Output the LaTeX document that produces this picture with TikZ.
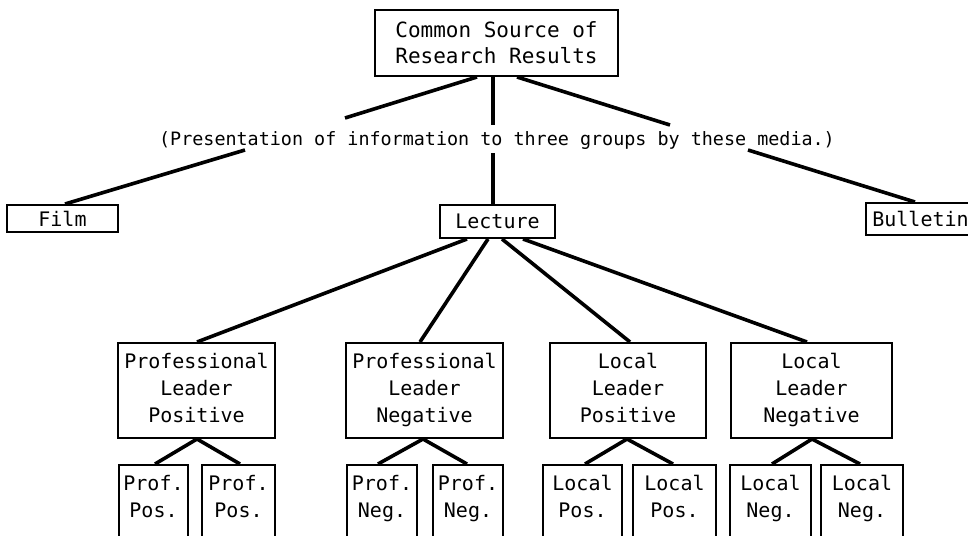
\documentclass[tikz,border=0pt]{standalone}
\usepackage{fontspec}
\setmonofont{DejaVu Sans Mono}
\usetikzlibrary{calc}
\begin{document}
\begin{tikzpicture}[x=1pt,y=-1pt,
  box/.style={draw, line width=2pt, inner sep=0pt, align=center,
    font=\ttfamily\fontsize{20}{27}\selectfont},
  conn/.style={line width=3.6pt},
  medium/.style={font=\ttfamily\fontsize{18.4}{24}\selectfont, inner sep=0pt, anchor=base}]
\path[use as bounding box] (0,0) rectangle (968,535);
\clip (0,0) rectangle (968,535);
\newcommand{\dbig}{\rule[-6pt]{0pt}{0pt}}
\newcommand{\dsmall}{\rule[-13pt]{0pt}{0pt}}
% top
\node[box, minimum width=243pt, minimum height=66pt, font=\ttfamily\fontsize{21}{26}\selectfont] (top) at (496.5,43) {Common Source of\\Research Results};
\node[medium] (lbl) at (497,145) {(Presentation of information to three groups by these media.)};
% media
\node[box, minimum width=111pt, minimum height=27pt] (film) at (62.5,218.5) {Film};
\node[box, minimum width=115pt, minimum height=33pt] (lecture) at (497.5,221.5) {Lecture};
\node[box, minimum width=109pt, minimum height=32pt] (bulletin) at (920.5,219) {Bulletin};
% leaders
\node[box, minimum width=157pt, minimum height=95pt] (plp) at (196.5,390.5) {Professional\\Leader\\Positive\dbig};
\node[box, minimum width=157pt, minimum height=95pt] (pln) at (424.5,390.5) {Professional\\Leader\\Negative\dbig};
\node[box, minimum width=156pt, minimum height=95pt] (llp) at (628,390.5) {Local\\Leader\\Positive\dbig};
\node[box, minimum width=161pt, minimum height=95pt] (lln) at (811.5,390.5) {Local\\Leader\\Negative\dbig};
% groups
\node[box, minimum width=69pt, minimum height=75pt] (pp1) at (153.5,502.5) {Prof.\\Pos.\dsmall};
\node[box, minimum width=73pt, minimum height=75pt] (pp2) at (238.5,502.5) {Prof.\\Pos.\dsmall};
\node[box, minimum width=70pt, minimum height=75pt] (pn1) at (382,502.5) {Prof.\\Neg.\dsmall};
\node[box, minimum width=70pt, minimum height=75pt] (pn2) at (468,502.5) {Prof.\\Neg.\dsmall};
\node[box, minimum width=79pt, minimum height=75pt] (lp1) at (582.5,502.5) {Local\\Pos.\dsmall};
\node[box, minimum width=83pt, minimum height=75pt] (lp2) at (674.5,502.5) {Local\\Pos.\dsmall};
\node[box, minimum width=81pt, minimum height=75pt] (ln1) at (770.5,502.5) {Local\\Neg.\dsmall};
\node[box, minimum width=82pt, minimum height=75pt] (ln2) at (862,502.5) {Local\\Neg.\dsmall};
% gap points around the label
\coordinate (fa) at (345,118);
\coordinate (fb) at (245,150);
\coordinate (ca) at (493,125);
\coordinate (cb) at (493,153);
\coordinate (ba) at (670,125);
\coordinate (bb) at (748,150);
% connectors from the source
\draw[conn] (477,0 |- top.south) -- (fa);
\draw[conn] (fb) -- (65,0 |- film.north);
\draw[conn] (493,0 |- top.south) -- (ca);
\draw[conn] (cb) -- (493,0 |- lecture.north);
\draw[conn] (517,0 |- top.south) -- (ba);
\draw[conn] (bb) -- (915,0 |- bulletin.north);
% lecture to leaders
\draw[conn] (467,0 |- lecture.south) -- (197,0 |- plp.north);
\draw[conn] (488,0 |- lecture.south) -- (420,0 |- pln.north);
\draw[conn] (502,0 |- lecture.south) -- (630,0 |- llp.north);
\draw[conn] (523,0 |- lecture.south) -- (807,0 |- lln.north);
% leaders to groups
\draw[conn] (197,0 |- plp.south) -- (155,0 |- pp1.north);
\draw[conn] (197,0 |- plp.south) -- (240,0 |- pp2.north);
\draw[conn] (423,0 |- pln.south) -- (378,0 |- pn1.north);
\draw[conn] (423,0 |- pln.south) -- (467,0 |- pn2.north);
\draw[conn] (627,0 |- llp.south) -- (585,0 |- lp1.north);
\draw[conn] (627,0 |- llp.south) -- (673,0 |- lp2.north);
\draw[conn] (812,0 |- lln.south) -- (772,0 |- ln1.north);
\draw[conn] (812,0 |- lln.south) -- (860,0 |- ln2.north);
\end{tikzpicture}
\end{document}
